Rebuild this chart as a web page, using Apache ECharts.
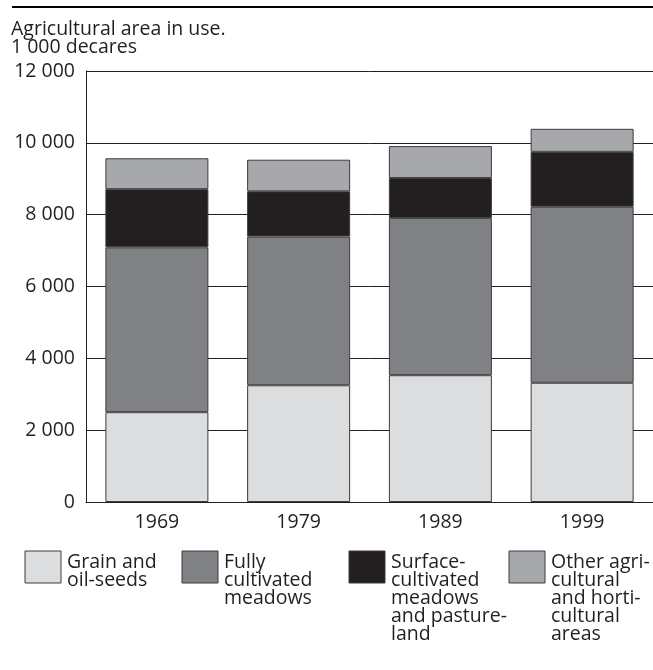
<!DOCTYPE html>
<html>
<head>
<meta charset="utf-8">
<style>
  html, body { margin: 0; padding: 0; background: #fff; }
  #chart { width: 653px; height: 670px; }
</style>
<script src="https://cdn.jsdelivr.net/npm/echarts@6/dist/echarts.min.js"></script>
</head>
<body>
<div id="chart"></div>
<script>
// data (1 000 decares)
const years = ['1969', '1979', '1989', '1999'];
const grain = [2500, 3250, 3530, 3320];
const fullyMeadows = [4590, 4140, 4380, 4900];
const surfaceMeadows = [1620, 1260, 1110, 1530];
const otherAreas = [860, 880, 890, 640];
const yTicks = [0, 2000, 4000, 6000, 8000, 10000, 12000];

const seriesNames = ['Grain and\noil-seeds', 'Fully\ncultivated\nmeadows',
  'Surface-\ncultivated\nmeadows\nand pasture-\nland', 'Other agri-\ncultural\nand horti-\ncultural\nareas'];
const seriesData = [grain, fullyMeadows, surfaceMeadows, otherAreas];
const colors = ['#dcdddf', '#808184', '#231f20', '#a7a8ab'];

const font = '"Open Sans", "Noto Sans", sans-serif';
const txt = '#231f20';

var chart = echarts.init(document.getElementById('chart'), null, { renderer: 'canvas' });

// legend drawn by hand: box at top, text block beside it
const legendX = [25, 182, 349, 509];
let legendGraphics = [];
seriesNames.forEach((name, i) => {
  legendGraphics.push({
    type: 'rect',
    shape: { x: legendX[i], y: 551, width: 36, height: 32 },
    style: { fill: colors[i], stroke: '#3c3c3c', lineWidth: 1 }
  });
  legendGraphics.push({
    type: 'text',
    x: legendX[i] + 42,
    y: 554,
    style: { text: name, font: '19.5px ' + font, fill: txt, lineHeight: 17.8 }
  });
});

chart.setOption({
  animation: false,
  color: colors,
  title: {
    text: 'Agricultural area in use.\n1 000 decares',
    left: 6,
    top: 15,
    textStyle: { fontFamily: font, fontSize: 19.5, fontWeight: 'normal', color: txt, lineHeight: 18.5 }
  },
  graphic: [
    { type: 'line', shape: { x1: 12, y1: 7, x2: 653, y2: 7 }, style: { stroke: '#000', lineWidth: 2 } }
  ].concat(legendGraphics),
  grid: { left: 86, top: 71, width: 571, height: 431 },
  xAxis: {
    type: 'category',
    data: years,
    axisLine: { lineStyle: { color: txt, width: 1 } },
    axisTick: { show: false },
    axisLabel: { fontFamily: font, fontSize: 19.5, color: txt, margin: 10 }
  },
  yAxis: {
    type: 'value',
    min: 0,
    max: yTicks[yTicks.length - 1],
    interval: 2000,
    axisLine: { show: true, lineStyle: { color: txt, width: 1 } },
    axisTick: { show: false },
    splitLine: { lineStyle: { color: txt, width: 1 } },
    axisLabel: {
      fontFamily: font, fontSize: 19.5, color: txt, margin: 11,
      formatter: v => v >= 1000 ? Math.floor(v / 1000) + ' ' + String(v % 1000).padStart(3, '0') : String(v)
    }
  },
  series: seriesNames.map((name, i) => ({
    name: name,
    type: 'bar',
    stack: 'area',
    barWidth: 103,
    data: seriesData[i],
    itemStyle: { color: colors[i], borderColor: '#3c3c3c', borderWidth: 1 }
  }))
});
</script>
</body>
</html>
